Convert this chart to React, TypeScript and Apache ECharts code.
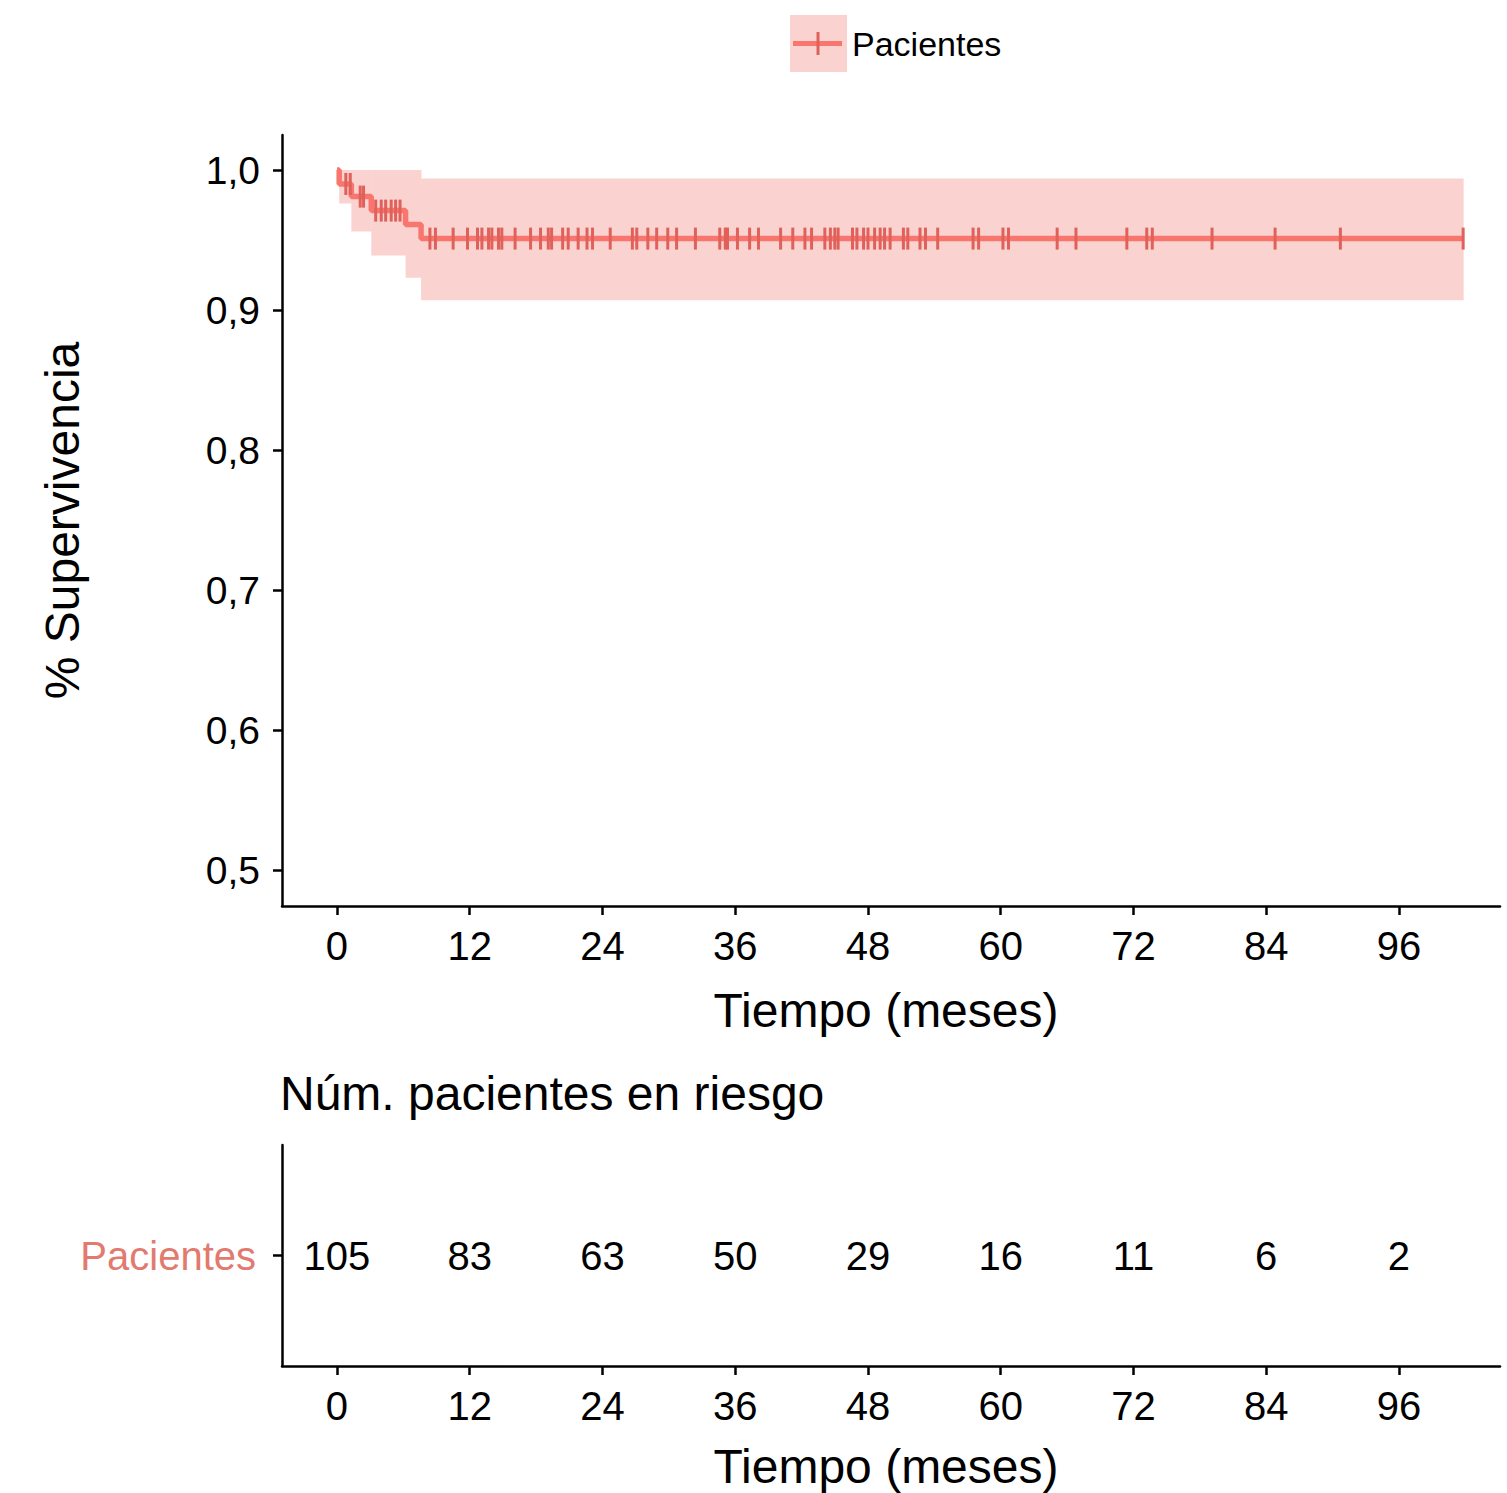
import React, { useEffect, useRef } from "react";
import * as echarts from "echarts";

// ---- Data ----
const monthTicks = [0, 12, 24, 36, 48, 60, 72, 84, 96];
const survTicks = [0.5, 0.6, 0.7, 0.8, 0.9, 1.0];

// Kaplan-Meier steps (time in months)
const eventTimes = [0, 0.2, 1.3, 3.1, 6.2, 7.6];
const survival = [1.0, 0.99, 0.981, 0.971, 0.961, 0.951];
const lowerCI = [1.0, 0.976, 0.956, 0.939, 0.923, 0.907];
const upperCI = [1.0, 1.0, 1.0, 1.0, 1.0, 0.994];
const lastTime = 101.8;

// censored observations (months)
const censorTimes = [
  0.8, 1.2, 2.1, 2.4, 3.5, 4.0, 4.4, 4.9, 5.3, 5.7,
  8.4, 8.9, 10.5, 11.8, 12.7, 13.1, 13.7, 14.0, 14.6, 14.9, 16.1, 17.5, 18.4,
  19.1, 19.4, 20.4, 20.9, 21.8, 22.6, 23.1, 24.7, 26.7, 27.1, 28.1, 28.9, 29.9,
  30.7, 32.4, 34.6, 35.1, 35.3, 36.2, 37.3, 38.1, 40.1, 41.2, 42.3, 42.9, 44.1,
  44.6, 45.0, 45.3, 46.6, 47.0, 47.6, 48.0, 48.6, 49.1, 49.5, 50.0, 51.2, 51.6,
  52.7, 53.2, 54.3, 57.5, 58.0, 60.2, 60.7, 65.1, 66.8, 71.4, 73.2, 73.7, 79.1,
  84.8, 90.7, 101.8,
];

// number at risk
const riskTimes = [0, 12, 24, 36, 48, 60, 72, 84, 96];
const atRisk = [105, 83, 63, 50, 29, 16, 11, 6, 2];

const groupName = "Pacientes";

const RED = "#F8766D";
const TICK_RED = "#E0605A";
const BAND = "#FAD3D0";
const LABEL_RED = "#E27A6F";
const FONT = "'Liberation Sans', Arial, Helvetica, sans-serif";

function survAt(t: number): number {
  let s = survival[0];
  for (let i = 0; i < eventTimes.length; i++) {
    if (eventTimes[i] <= t) s = survival[i];
  }
  return s;
}

export default function App() {
  const ref = useRef<HTMLDivElement>(null);

  useEffect(() => {
    if (!ref.current) return;
    const chart = echarts.init(ref.current, undefined, { renderer: "svg" });

    const lineData: number[][] = eventTimes.map((t, i) => [t, survival[i]]);
    lineData.push([lastTime, survival[survival.length - 1]]);

    const bandData = eventTimes.slice(1).map((t, k) => {
      const i = k + 1;
      const t1 = i + 1 < eventTimes.length ? eventTimes[i + 1] : lastTime;
      return [t, t1, lowerCI[i], upperCI[i]];
    });

    const censorData = censorTimes.map((t) => [t, survAt(t)]);
    const riskData = riskTimes.map((t, i) => [t, groupName, atRisk[i]]);

    const xMin = -4.97;
    const xMax = 105.13;

    const axisLineStyle = { show: true, onZero: false, lineStyle: { color: "#000", width: 2.5 } };
    const tickStyle = { show: true, lineStyle: { color: "#000", width: 2.5 }, length: 9 };

    chart.setOption({
      animation: false,
      textStyle: { fontFamily: FONT },
      title: [
        {
          text: "Núm. pacientes en riesgo",
          left: 280,
          top: 1069,
          padding: 0,
          textStyle: { fontSize: 48, fontWeight: "normal", color: "#000", fontFamily: FONT },
        },
      ],
      legend: {
        left: 790,
        top: 15,
        padding: 0,
        itemWidth: 57,
        itemHeight: 57,
        itemGap: 5,
        icon: "rect",
        data: [{ name: groupName, itemStyle: { color: BAND } }],
        textStyle: { fontSize: 34, color: "#000", fontFamily: FONT },
      },
      graphic: [
        {
          type: "line",
          z: 100,
          shape: { x1: 793, y1: 43.5, x2: 842, y2: 43.5 },
          style: { stroke: RED, lineWidth: 5 },
        },
        {
          type: "line",
          z: 100,
          shape: { x1: 818, y1: 32, x2: 818, y2: 55 },
          style: { stroke: TICK_RED, lineWidth: 3 },
        },
      ],
      grid: [
        { left: 282, right: 7, top: 135, height: 771 },
        { left: 282, right: 7, top: 1145, height: 221 },
      ],
      xAxis: [
        {
          type: "value",
          gridIndex: 0,
          min: xMin,
          max: xMax,
          splitLine: { show: false },
          axisLine: axisLineStyle,
          axisTick: { ...tickStyle, customValues: monthTicks },
          axisLabel: {
            customValues: monthTicks,
            fontSize: 40,
            color: "#000",
            margin: 20,
            fontFamily: FONT,
          },
          name: "Tiempo (meses)",
          nameLocation: "middle",
          nameGap: 80,
          nameTextStyle: { fontSize: 48, color: "#000", fontFamily: FONT, padding: [0, 10, 0, 0] },
        },
        {
          type: "value",
          gridIndex: 1,
          min: xMin,
          max: xMax,
          splitLine: { show: false },
          axisLine: axisLineStyle,
          axisTick: { ...tickStyle, customValues: monthTicks },
          axisLabel: {
            customValues: monthTicks,
            fontSize: 40,
            color: "#000",
            margin: 20,
            fontFamily: FONT,
          },
          name: "Tiempo (meses)",
          nameLocation: "middle",
          nameGap: 76,
          nameTextStyle: { fontSize: 48, color: "#000", fontFamily: FONT, padding: [0, 10, 0, 0] },
        },
      ],
      yAxis: [
        {
          type: "value",
          gridIndex: 0,
          min: 0.4743,
          max: 1.025,
          splitLine: { show: false },
          axisLine: axisLineStyle,
          axisTick: { ...tickStyle, customValues: survTicks },
          axisLabel: {
            customValues: survTicks,
            fontSize: 39,
            color: "#000",
            margin: 22,
            fontFamily: FONT,
            formatter: (v: number) => v.toFixed(1).replace(".", ","),
          },
          name: "% Supervivencia",
          nameLocation: "middle",
          nameGap: 196,
          nameTextStyle: { fontSize: 48, color: "#000", fontFamily: FONT },
        },
        {
          type: "category",
          gridIndex: 1,
          data: [groupName],
          splitLine: { show: false },
          axisLine: axisLineStyle,
          axisTick: { ...tickStyle, alignWithLabel: true },
          axisLabel: {
            fontSize: 40,
            color: LABEL_RED,
            margin: 26,
            fontFamily: FONT,
          },
        },
      ],
      series: [
        {
          type: "custom",
          name: "IC",
          xAxisIndex: 0,
          yAxisIndex: 0,
          silent: true,
          z: 1,
          data: bandData,
          encode: { x: [0, 1], y: [2, 3] },
          renderItem: (params: any, api: any) => {
            const p0 = api.coord([api.value(0), api.value(3)]);
            const p1 = api.coord([api.value(1), api.value(2)]);
            return {
              type: "rect",
              shape: { x: p0[0], y: p0[1], width: p1[0] - p0[0] + 0.5, height: p1[1] - p0[1] },
              style: { fill: BAND },
            };
          },
        },
        {
          type: "line",
          name: groupName,
          xAxisIndex: 0,
          yAxisIndex: 0,
          step: "end",
          showSymbol: false,
          symbol: "none",
          z: 2,
          data: lineData,
          lineStyle: { color: RED, width: 5.5 },
          itemStyle: { color: RED },
        },
        {
          type: "scatter",
          name: "censura",
          xAxisIndex: 0,
          yAxisIndex: 0,
          z: 3,
          symbol: "rect",
          symbolSize: [3, 22],
          data: censorData,
          itemStyle: { color: TICK_RED, opacity: 1 },
        },
        {
          type: "scatter",
          name: "riesgo",
          xAxisIndex: 1,
          yAxisIndex: 1,
          symbolSize: 0,
          data: riskData,
          itemStyle: { opacity: 1, color: "#000" },
          label: {
            show: true,
            position: "inside",
            formatter: (p: any) => String(p.value[2]),
            fontSize: 40,
            color: "#000",
            opacity: 1,
            fontFamily: FONT,
          },
        },
      ],
    });

    return () => chart.dispose();
  }, []);

  return (
    <div
      ref={ref}
      style={{ position: "absolute", left: 0, top: 0, width: 1507, height: 1493, background: "#fff" }}
    />
  );
}
